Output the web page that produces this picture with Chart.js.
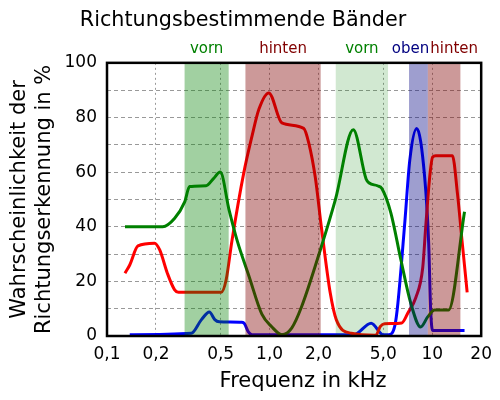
<!DOCTYPE html>
<html>
<head>
<meta charset="utf-8">
<script src="https://cdn.jsdelivr.net/npm/chart.js@4"></script>
<style>
  html, body { margin: 0; padding: 0; background: #fff; }
</style>
</head>
<body>
<canvas id="chart" width="500" height="400"></canvas>
<script>
// x axis (kHz, log)
const freqTicks = [0.1, 0.2, 0.5, 1, 2, 5, 10, 20];
const freqTickLabels = ['0,1', '0,2', '0,5', '1,0', '2,0', '5,0', '10', '20'];

// direction bands
const bandStart = [0.30, 0.71, 2.55, 7.2, 9.4];
const bandEnd = [0.56, 2.06, 5.35, 9.4, 14.9];
const bandNames = ['vorn', 'hinten', 'vorn', 'oben', 'hinten'];

// curve "vorn" (green)
const vornFreq = [0.129, 0.22, 0.26, 0.30, 0.322, 0.407, 0.45, 0.497, 0.564, 0.631, 0.746, 0.896, 1.03, 1.19, 1.37, 1.57, 2.05, 2.54, 3.27, 3.92, 4.1, 4.6, 4.9, 5.57, 6.41, 7.38, 8.49, 9.38, 10.35, 12.6, 15.8];
const vornVals = [40, 40, 43, 49, 54.7, 55, 57.5, 60, 46, 35, 22, 8, 3.4, 0.5, 3, 10.6, 31.5, 50, 75.5, 57.5, 56, 55, 54, 45, 28, 12, 3.3, 7, 9.5, 9.5, 45.5];

// curve "hinten" (red)
const hintenFreq = [0.129, 0.138, 0.155, 0.196, 0.211, 0.235, 0.26, 0.275, 0.504, 0.54, 0.587, 0.695, 0.778, 0.859, 0.989, 1.19, 1.62, 1.74, 1.91, 2.08, 2.36, 2.57, 3.18, 4.5, 4.8, 5.1, 6.5, 7.08, 7.92, 8.74, 9.12, 9.64, 10.05, 10.5, 13.3, 14.3, 15.3, 16.4];
const hintenVals = [23, 26, 33, 34, 31.5, 23, 17, 16, 16, 20.5, 35, 60, 73, 83, 89, 78, 76, 70.7, 58, 40, 15.7, 6, 1, 0.3, 3.5, 4.5, 4.8, 8.4, 14, 25, 40, 58, 65.5, 66, 66, 52, 34, 16];

// curve "oben" (blue)
const obenFreq = [0.138, 0.33, 0.38, 0.426, 0.46, 0.49, 0.676, 0.70, 0.74, 0.78, 3.3, 4.21, 4.98, 5.4, 5.9, 6.15, 6.79, 7.28, 8.03, 8.99, 9.51, 9.78, 10.05, 15.8];
const obenVals = [0.5, 1, 5.9, 8.8, 6, 5.2, 5, 4.5, 1.5, 0.5, 0.5, 4.7, 0.5, 0.5, 4, 12, 42, 64.5, 76, 58, 34, 9.5, 2, 2];

const toPoints = (xs, ys) => xs.map((x, i) => ({ x: x, y: ys[i] }));

const bandFill = ['rgba(0,128,0,0.37)', 'rgba(128,0,0,0.4)', 'rgba(0,128,0,0.18)', 'rgba(0,0,128,0.38)', 'rgba(128,0,0,0.4)'];
const bandText = ['#008000', '#800000', '#008000', '#000080', '#800000'];
const labelShift = [0, 0, 0, -8, 10];

const bandsPlugin = {
    id: 'bands',
    afterDatasetsDraw(chart) {
        const { ctx, chartArea, scales } = chart;
        ctx.save();
        ctx.beginPath();
        ctx.rect(chartArea.left, chartArea.top, chartArea.right - chartArea.left, chartArea.bottom - chartArea.top);
        ctx.clip();
        bandStart.forEach((s, i) => {
            const x1 = scales.x.getPixelForValue(s);
            const x2 = scales.x.getPixelForValue(bandEnd[i]);
            ctx.fillStyle = bandFill[i];
            ctx.fillRect(x1, chartArea.top, x2 - x1, chartArea.bottom - chartArea.top);
        });
        ctx.restore();

        ctx.save();
        ctx.font = '15px "DejaVu Sans"';
        ctx.textAlign = 'center';
        ctx.textBaseline = 'middle';
        bandStart.forEach((s, i) => {
            const x1 = scales.x.getPixelForValue(s);
            const x2 = scales.x.getPixelForValue(bandEnd[i]);
            ctx.fillStyle = bandText[i];
            ctx.fillText(bandNames[i], (x1 + x2) / 2 + labelShift[i], chartArea.top - 14);
        });
        // x axis title, a little right of the axis centre as in the original
        ctx.fillStyle = '#000';
        ctx.font = '21px "DejaVu Sans"';
        ctx.textBaseline = 'alphabetic';
        ctx.fillText('Frequenz in kHz', (chartArea.left + chartArea.right) / 2 + 9, 387);
        // frame
        ctx.strokeStyle = '#000';
        ctx.lineWidth = 2.5;
        ctx.strokeRect(chartArea.left, chartArea.top, chartArea.right - chartArea.left, chartArea.bottom - chartArea.top);
        ctx.restore();
    }
};

const lineStyle = { borderWidth: 3, pointRadius: 0, cubicInterpolationMode: 'monotone', fill: false };

new Chart(document.getElementById('chart'), {
    type: 'line',
    data: {
        datasets: [
            { label: 'vorn', data: toPoints(vornFreq, vornVals), borderColor: '#008000', ...lineStyle },
            { label: 'hinten', data: toPoints(hintenFreq, hintenVals), borderColor: '#ff0000', ...lineStyle },
            { label: 'oben', data: toPoints(obenFreq, obenVals), borderColor: '#0000ff', ...lineStyle }
        ]
    },
    options: {
        responsive: false,
        animation: false,
        devicePixelRatio: 1,
        layout: { padding: { left: 0, right: 14, top: 0, bottom: 0 } },
        plugins: {
            legend: { display: false },
            tooltip: { enabled: false },
            title: {
                display: true,
                text: 'Richtungsbestimmende Bänder',
                color: '#000',
                font: { family: 'DejaVu Sans', size: 20.7, weight: 'normal' },
                padding: { top: 8, bottom: 30 }
            }
        },
        scales: {
            x: {
                type: 'logarithmic',
                min: 0.1,
                max: 20,
                afterBuildTicks: scale => { scale.ticks = freqTicks.map(v => ({ value: v })); },
                afterFit: scale => { scale.height = 64; },
                ticks: {
                    autoSkip: false,
                    maxRotation: 0,
                    padding: 8,
                    color: '#000',
                    font: { family: 'DejaVu Sans', size: 17 },
                    callback: (value) => {
                        const i = freqTicks.indexOf(value);
                        return i >= 0 ? freqTickLabels[i] : '';
                    }
                },
                grid: { color: 'rgba(0,0,0,0.4)', lineWidth: 1, drawTicks: false },
                border: { display: false, dash: [2, 3] }
            },
            y: {
                min: 0,
                max: 100,
                afterFit: scale => { scale.width = 107; },
                ticks: {
                    stepSize: 10,
                    padding: 10,
                    color: '#000',
                    font: { family: 'DejaVu Sans', size: 17 },
                    callback: v => (v % 20 === 0 ? String(v) : '')
                },
                grid: { color: 'rgba(0,0,0,0.4)', lineWidth: 1, drawTicks: false },
                border: { display: false, dash: [4, 3] },
                title: {
                    display: true,
                    text: ['Wahrscheinlichkeit der', 'Richtungserkennung in %'],
                    color: '#000',
                    font: { family: 'DejaVu Sans', size: 21 },
                    padding: { top: 7, bottom: 0 }
                }
            }
        }
    },
    plugins: [bandsPlugin]
});
</script>
</body>
</html>
